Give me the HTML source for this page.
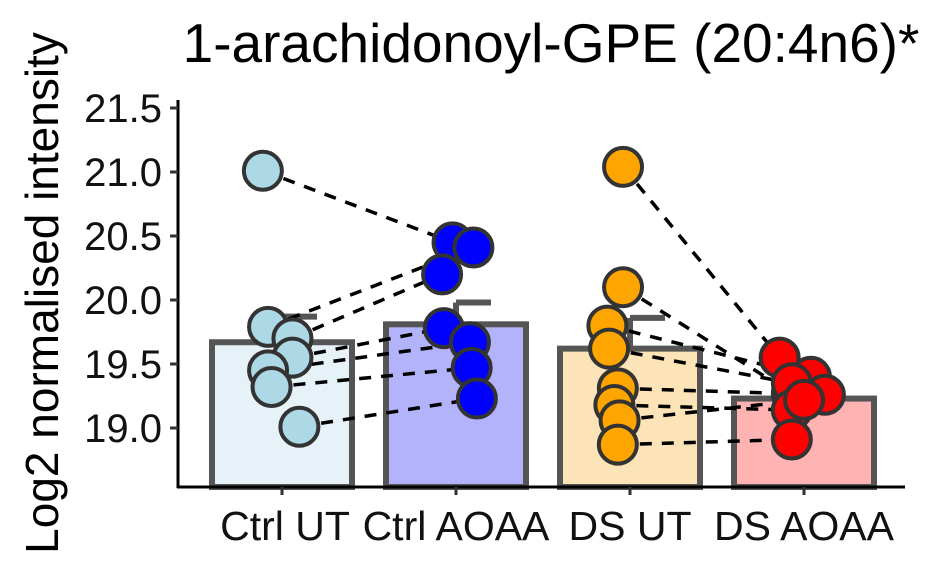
<!DOCTYPE html>
<html><head><meta charset="utf-8"><style>
body{margin:0;background:#fff}
svg text{font-family:"Liberation Sans",Arial,sans-serif}
</style></head><body>
<svg id="chart" width="930" height="570" xmlns="http://www.w3.org/2000/svg">
<text x="551" y="62" font-size="55" text-anchor="middle">1-arachidonoyl-GPE (20:4n6)*</text>
<text transform="translate(58,293) rotate(-90)" font-size="46" text-anchor="middle">Log2 normalised intensity</text>
<g id="plot"></g>
</svg>
<script>
const categories=["Ctrl UT","Ctrl AOAA","DS UT","DS AOAA"];
const means=[19.67,19.81,19.62,19.23];
const errs=[0.20,0.17,0.24,0.0];
const fills=["#e6f2f8","#b3b3fb","#fde3b8","#ffb3b3"];
const pointFills=["#add8e6","#0000ff","#ffa500","#ff0000"];
const ctrlUT=[21.01,19.79,19.70,19.55,19.45,19.32,19.01];
const ctrlAOAA=[20.45,20.41,20.20,19.78,19.67,19.47,19.23];
const dsUT=[21.04,20.10,19.80,19.62,19.31,19.18,19.06,18.87];
const dsAOAA=[19.55,19.27,19.40,19.35,19.26,19.14,19.22,18.91];
const jitUT=[-0.11,-0.08,0.06,0.06,-0.08,-0.06,0.1];
const jitCA=[-0.02,0.1,-0.08,-0.07,0.08,0.09,0.12];
const jitDU=[-0.04,-0.04,-0.13,-0.12,-0.07,-0.09,-0.06,-0.07];
const jitDA=[-0.14,-0.07,0.04,-0.07,0.12,-0.07,0.0,-0.07];
const yTicks=[19.0,19.5,20.0,20.5,21.0,21.5];
const X0=178,X1=905,Y0=487,Y1=100;
function y(v){return 428-(v-19)*128;}
function x(i){return 282+i*174;}
const bw=140;
const NS="http://www.w3.org/2000/svg";
const g=document.getElementById('plot');
function mk(t,a){const e=document.createElementNS(NS,t);for(const k in a)e.setAttribute(k,a[k]);g.appendChild(e);return e;}
means.forEach((m,i)=>{
 const r=mk('rect',{x:x(i)-bw/2,y:y(m),width:bw,height:Y0-y(m),fill:fills[i],stroke:"#555",'stroke-width':6});
 
 
 if(errs[i]>0){
  const l=mk('line',{x1:x(i),x2:x(i),y1:y(m),y2:y(m+errs[i]),stroke:"#555",'stroke-width':6});
  
  
  const c=mk('line',{x1:x(i),x2:x(i)+35,y1:y(m+errs[i]),y2:y(m+errs[i]),stroke:"#555",'stroke-width':6});
  
  
 }
});
const groups=[ctrlUT,ctrlAOAA,dsUT,dsAOAA];
const jits=[jitUT,jitCA,jitDU,jitDA];
function px(gi,j){return x(gi)+jits[gi][j]*174;}
[[0,1],[2,3]].forEach(([a,b])=>{
 groups[a].forEach((v,j)=>{
  if(j>=groups[b].length)return;
  const l=mk('line',{x1:px(a,j),y1:y(v),x2:px(b,j),y2:y(groups[b][j]),stroke:"#000",'stroke-width':3.5,'stroke-dasharray':"12,10"});
  
  
 });
});
groups.forEach((arr,gi)=>{
 arr.forEach((v,j)=>{
  const c=mk('circle',{cx:px(gi,j),cy:y(v),r:19,fill:pointFills[gi],stroke:"#333",'stroke-width':4});
  
  
 });
});
const ya=mk('line',{x1:X0,x2:X0,y1:Y1,y2:Y0+1,stroke:"#000",'stroke-width':3});


const xa=mk('line',{x1:X0-1,x2:X1,y1:Y0,y2:Y0,stroke:"#000",'stroke-width':3});


yTicks.forEach(t=>{
 const l=mk('line',{x1:X0-8,x2:X0,y1:y(t),y2:y(t),stroke:"#333",'stroke-width':3});
 
 
 const tx=mk('text',{x:X0-16,y:y(t)+14,'font-size':40,'text-anchor':'end',fill:"#111"});
 tx.textContent=t.toFixed(1);
 
 
});
categories.forEach((c,i)=>{
 const l=mk('line',{x1:x(i),x2:x(i),y1:Y0,y2:Y0+8,stroke:"#333",'stroke-width':3});
 
 
 const tx=mk('text',{x:x(i)+(i==0?3:0),y:540,'font-size':41,'text-anchor':'middle',fill:"#111"});
 tx.textContent=c;
 
 
});
</script>
</body></html>
